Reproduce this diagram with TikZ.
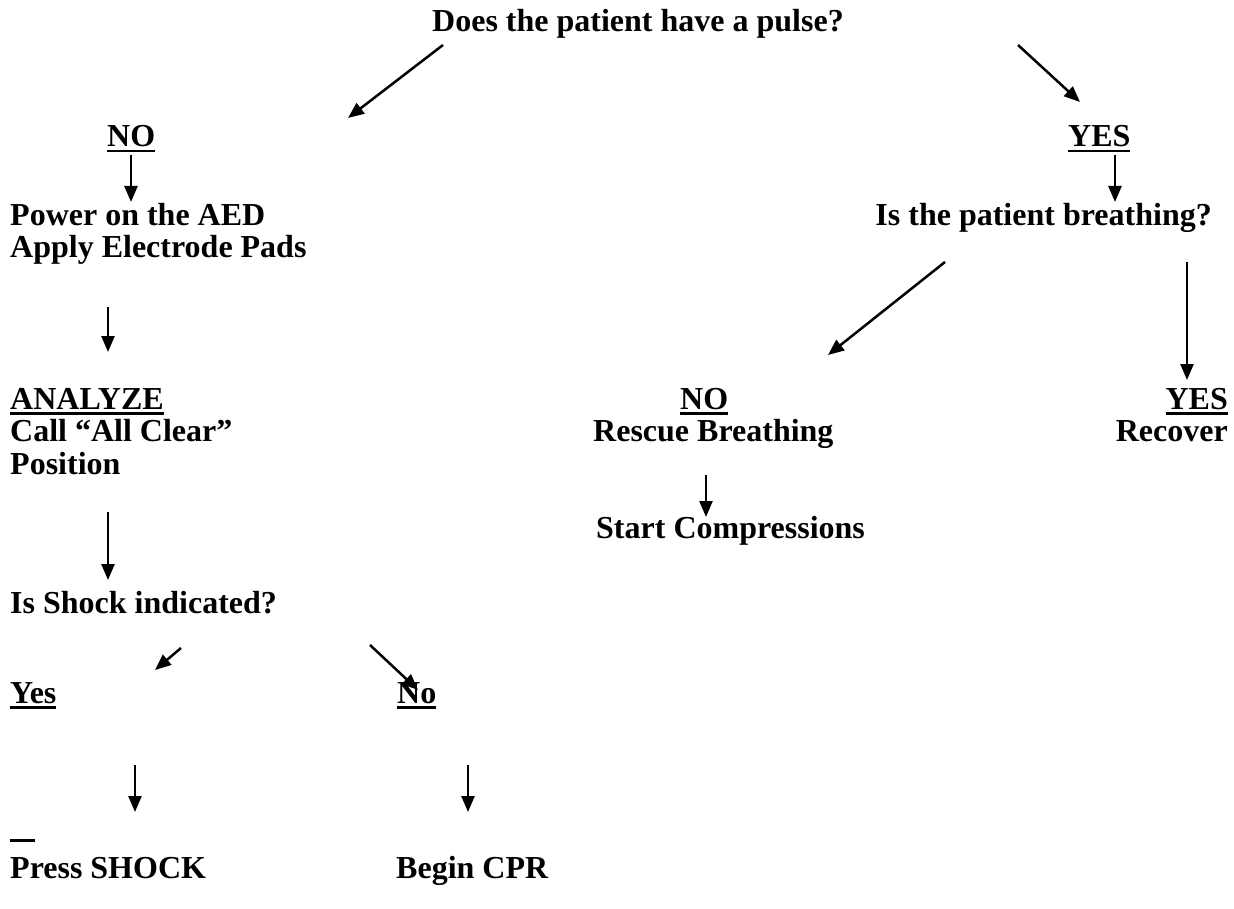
\documentclass[tikz,border=0pt]{standalone}
\usepackage{fontspec}
\setmainfont{Liberation Serif}
\usetikzlibrary{arrows.meta}
\newcommand\ulx[1]{\setbox0\hbox{#1}\rlap{\rule[-5.5pt]{\wd0}{2.8pt}}\box0}
\begin{document}
\begin{tikzpicture}[x=1pt,y=-1pt,
  txt/.style={anchor=base west, inner sep=0pt, font=\fontsize{32}{32}\selectfont\bfseries},
  txtr/.style={txt, anchor=base east},
  arr/.style={line width=2.5pt, -{Triangle[length=16pt,width=13pt]}}]
\useasboundingbox (0,0) rectangle (1234,909);
% texts
\node[txt] (title) at (432,32) {Does the patient have a pulse?};
\node[txt] (no1) at (107,147) {\ulx{NO}};
\node[txt] (yes1) at (1068,147) {\ulx{YES}};
\node[txt] (power) at (10,226) {Power on the AED};
\node[txt] (apply) at (10,258) {Apply Electrode Pads};
\node[txtr] (breath) at (1212,226) {Is the patient breathing?};
\node[txt] (analyze) at (10,409) {\ulx{ANALYZE}};
\node[txt] (call) at (10,441) {Call “All Clear”};
\node[txt] (pos) at (10,474) {Position};
\node[txt] (no2) at (680,409) {\ulx{NO}};
\node[txt] (rescue) at (593,441) {Rescue Breathing};
\node[txtr] (yes2) at (1228,409) {\ulx{YES}};
\node[txtr] (recover) at (1228,441) {Recover};
\node[txt] (start) at (596,538) {Start Compressions};
\node[txt] (shock) at (10,613) {Is Shock indicated?};
\node[txt] (yes3) at (10,703) {\ulx{Yes}};
\node[txt] (no3) at (397,703) {\ulx{No}};
\node[txt] (press) at (10,878) {Press SHOCK};
\node[txt] (cpr) at (396,878) {Begin CPR};
\fill (10,838.5) rectangle (35,841.5);
% arrow endpoints
\coordinate (a1s) at (443,45);  \coordinate (a1e) at (348,118);
\coordinate (a2s) at (1018,45); \coordinate (a2e) at (1080,102);
\coordinate (a3s) at (131,155); \coordinate (a3e) at (131,202);
\coordinate (a4s) at (1115,155); \coordinate (a4e) at (1115,202);
\coordinate (a5s) at (108,307); \coordinate (a5e) at (108,352);
\coordinate (a6s) at (945,262); \coordinate (a6e) at (828,355);
\coordinate (a7s) at (1187,262); \coordinate (a7e) at (1187,380);
\coordinate (a8s) at (108,512); \coordinate (a8e) at (108,580);
\coordinate (a9s) at (706,475); \coordinate (a9e) at (706,517);
\coordinate (a10s) at (181,648); \coordinate (a10e) at (155,670);
\coordinate (a11s) at (370,645); \coordinate (a11e) at (418,690);
\coordinate (a12s) at (135,765); \coordinate (a12e) at (135,812);
\coordinate (a13s) at (468,765); \coordinate (a13e) at (468,812);
\foreach \i in {1,...,13} \draw[arr] (a\i s) -- (a\i e);
\end{tikzpicture}
\end{document}
